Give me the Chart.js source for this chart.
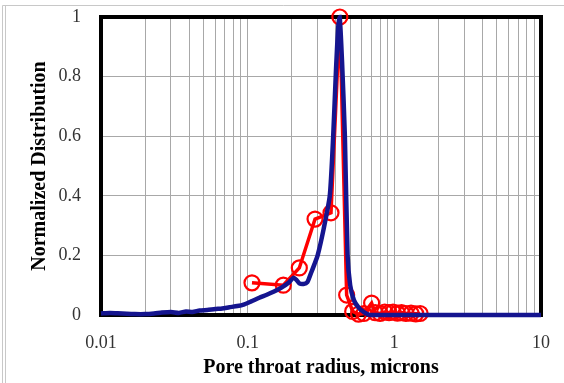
<!DOCTYPE html>
<html>
<head>
<meta charset="utf-8">
<script src="https://cdn.jsdelivr.net/npm/chart.js@4.4.1/dist/chart.umd.min.js"></script>
<style>
    html, body { margin: 0; padding: 0; background: #fff; }
    #wrap { width: 564px; height: 383px; }
</style>
</head>
<body>
<div id="wrap"><canvas id="chart" width="564" height="383"></canvas></div>
<script>
// blue curve: pore throat radius (microns) vs normalized distribution
const blueX = [0.01, 0.0115, 0.013, 0.015, 0.017, 0.02, 0.023, 0.026, 0.03, 0.034, 0.038, 0.042,
    0.047, 0.053, 0.06, 0.067, 0.075, 0.085, 0.095, 0.105, 0.12, 0.135, 0.15, 0.17, 0.19, 0.205,
    0.215, 0.225, 0.24, 0.255, 0.27, 0.285, 0.30, 0.33, 0.363, 0.383, 0.40, 0.415, 0.424, 0.44,
    0.46, 0.48, 0.50, 0.53, 0.57, 0.62, 0.68, 0.8, 1, 2, 5, 10];
const blueY = [0.005, 0.007, 0.006, 0.004, 0.003, 0.003, 0.005, 0.008, 0.01, 0.007, 0.012, 0.01,
    0.015, 0.017, 0.02, 0.022, 0.026, 0.03, 0.036, 0.045, 0.058, 0.068, 0.078, 0.092, 0.108, 0.125,
    0.118, 0.106, 0.104, 0.11, 0.14, 0.17, 0.2, 0.29, 0.4, 0.6, 0.82, 0.97, 1.0, 0.85,
    0.6, 0.2, 0.1, 0.05, 0.025, 0.01, 0.0, 0, 0, 0, 0, 0];

// red measured points (circles)
const redX = [0.107, 0.175, 0.225, 0.288, 0.37, 0.425, 0.473, 0.52, 0.57, 0.62, 0.70, 0.74,
    0.80, 0.86, 0.92, 0.98, 1.05, 1.12, 1.2, 1.3, 1.4, 1.5];
const redY = [0.108, 0.10, 0.158, 0.322, 0.343, 1.0, 0.067, 0.012, 0.003, 0.005, 0.04, 0.008,
    0.005, 0.01, 0.008, 0.01, 0.006, 0.008, 0.005, 0.006, 0.004, 0.005];

const xLabels = [0.01, 0.1, 1, 10];
const yTicks = [0, 0.2, 0.4, 0.6, 0.8, 1];

// log grid lines: 1..9 in each decade
const xGrid = [];
for (let d = 0; d < 3; d++) {
    for (let m = 1; m < 10; m++) {
        xGrid.push(Number((m * Math.pow(10, d - 2)).toPrecision(2)));
    }
}
xGrid.push(10);

function toPoints(xs, ys) {
    return xs.map((x, i) => ({ x: x, y: ys[i] }));
}

const framePlugin = {
    id: "frame",
    beforeDraw(chart) {
        const ctx = chart.ctx;
        ctx.save();
        ctx.fillStyle = "#fff";
        ctx.fillRect(0, 0, chart.width, chart.height);
        ctx.strokeStyle = "#c8c8c8";
        ctx.lineWidth = 1;
        ctx.beginPath();
        ctx.moveTo(2.5, 5.5);
        ctx.lineTo(chart.width, 5.5);
        ctx.moveTo(2.5, 5.5);
        ctx.lineTo(2.5, chart.height);
        ctx.moveTo(5.5, 5.5);
        ctx.lineTo(5.5, chart.height);
        ctx.stroke();
        ctx.restore();
    },
    beforeDatasetsDraw(chart) {
        const a = chart.chartArea;
        const ctx = chart.ctx;
        ctx.save();
        ctx.strokeStyle = "#000";
        ctx.lineWidth = 4;
        ctx.strokeRect(a.left, a.top, a.right - a.left, a.bottom - a.top);
        ctx.restore();
    },
};

new Chart(document.getElementById("chart"), {
    type: "scatter",
    data: {
        datasets: [
            {
                label: "Model",
                data: toPoints(blueX, blueY),
                showLine: true,
                borderColor: "#15158f",
                borderWidth: 4.5,
                pointRadius: 0,
                tension: 0.2,
                clip: false,
            },
            {
                label: "Measured",
                data: toPoints(redX, redY),
                showLine: true,
                borderColor: "#ff0000",
                borderWidth: 3.5,
                pointRadius: 7.5,
                pointBorderWidth: 2.2,
                pointBorderColor: "#ff0000",
                pointBackgroundColor: "rgba(0,0,0,0)",
                clip: false,
            },
        ],
    },
    options: {
        responsive: false,
        animation: false,
        layout: { padding: { left: 0, right: 23, top: 17, bottom: 0 } },
        plugins: {
            legend: { display: false },
            tooltip: { enabled: false },
        },
        scales: {
            x: {
                type: "logarithmic",
                min: 0.01,
                max: 10,
                afterBuildTicks: (scale) => {
                    scale.ticks = xGrid.map((v) => ({ value: v }));
                },
                afterFit: (scale) => {
                    scale.height = 68;
                    scale.paddingLeft = 0;
                    scale.paddingRight = 0;
                },
                ticks: {
                    autoSkip: false,
                    maxRotation: 0,
                    padding: 17,
                    color: "#333",
                    font: { family: "Liberation Serif", size: 18 },
                    callback: (v) => (xLabels.includes(v) ? String(v) : ""),
                },
                grid: { color: "#a8a8a8", lineWidth: 1, drawTicks: false },
                border: { display: false },
                title: {
                    display: true,
                    text: "Pore throat radius, microns",
                    color: "#000",
                    padding: { top: 0, bottom: 3 },
                    font: { family: "Liberation Serif", size: 20, weight: "bold" },
                },
            },
            y: {
                min: 0,
                max: 1,
                afterBuildTicks: (scale) => {
                    scale.ticks = yTicks.map((v) => ({ value: v }));
                },
                afterFit: (scale) => {
                    scale.width = 101;
                    scale.paddingTop = 0;
                    scale.paddingBottom = 0;
                },
                ticks: {
                    padding: 20,
                    color: "#333",
                    font: { family: "Liberation Serif", size: 18 },
                    callback: (v) => String(Number(v.toFixed(1))),
                },
                grid: { color: "#a8a8a8", lineWidth: 1, drawTicks: false },
                border: { display: false },
                title: {
                    display: true,
                    text: "Normalized Distribution",
                    color: "#000",
                    padding: { top: 28, bottom: 0 },
                    font: { family: "Liberation Serif", size: 20, weight: "bold" },
                },
            },
        },
    },
    plugins: [framePlugin],
});
</script>
</body>
</html>
